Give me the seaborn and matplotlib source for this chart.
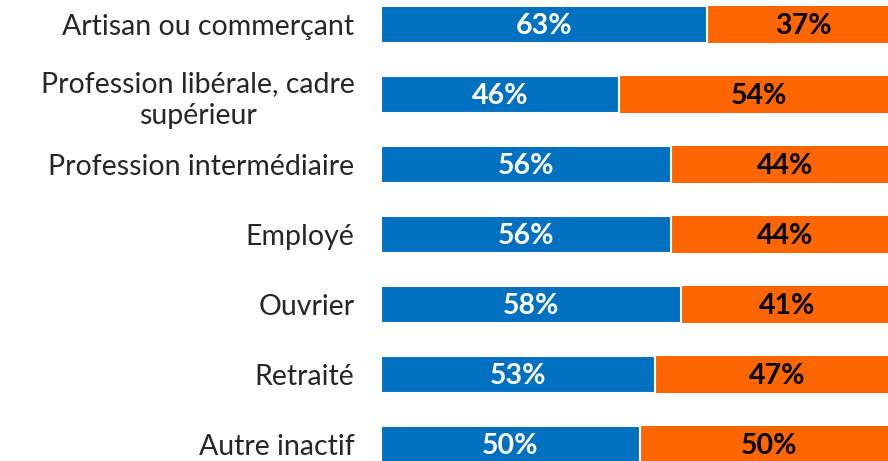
import matplotlib
matplotlib.use('Agg')
import matplotlib.pyplot as plt
import seaborn as sns
import pandas as pd

categories = ['Artisan ou commerçant', 'Profession libérale, cadre\nsupérieur',
              'Profession intermédiaire', 'Employé', 'Ouvrier', 'Retraité', 'Autre inactif']
blue_vals = [63, 46, 56, 56, 58, 53, 50]
orange_vals = [37, 54, 44, 44, 41, 47, 50]

BLUE = '#0070C0'
ORANGE = '#FF6600'

sns.set_style('white')
plt.rcParams['font.family'] = ['Lato', 'DejaVu Sans']

df = pd.DataFrame({'cat': categories, 'blue': blue_vals, 'orange': orange_vals})
df['total'] = df['blue'] + df['orange']

fig = plt.figure(figsize=(8.88, 4.61), dpi=100)
ax = fig.add_axes([381 / 888, 0, 1 - 381 / 888, 1])

# orange drawn as full length underneath, blue on top with a white edge for the gap
sns.barplot(data=df, y='cat', x='total', color=ORANGE, saturation=1, width=0.54,
            edgecolor='white', linewidth=0, orient='h', ax=ax)
sns.barplot(data=df, y='cat', x='blue', color=BLUE, saturation=1, width=0.54,
            edgecolor='white', linewidth=1.5, orient='h', ax=ax)

for i, (b, o) in enumerate(zip(blue_vals, orange_vals)):
    ax.text(b / 2, i + 0.02, f'{b}%', ha='center', va='center', color='white',
            fontsize=20.5, fontweight='bold')
    ax.text(b + o / 2, i + 0.02, f'{o}%', ha='center', va='center', color='black',
            fontsize=20.5, fontweight='bold')

ax.set_xlim(0, 97.9)
ax.set_ylim(6 + 0.236, -0.35)
ax.set_xlabel('')
ax.set_ylabel('')
ax.set_xticks([])
ax.tick_params(axis='y', length=0, pad=19, labelsize=20.5)
for lab in ax.get_yticklabels():
    lab.set_multialignment('center')
    lab.set_linespacing(1.3)
sns.despine(ax=ax, left=True, bottom=True, top=True, right=True)

fig.savefig('out.png', dpi=100)
